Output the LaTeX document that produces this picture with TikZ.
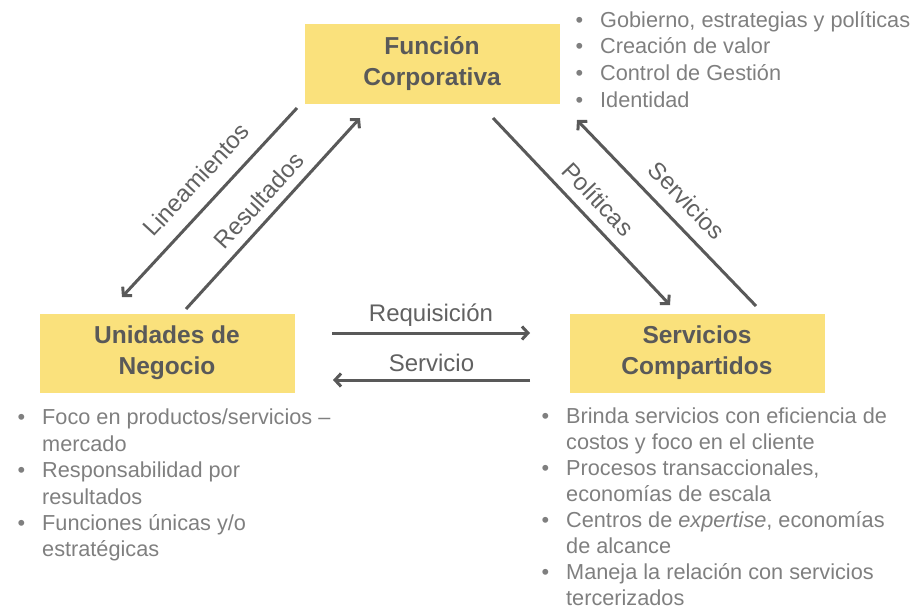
\documentclass[tikz,border=0pt]{standalone}
\usepackage{fontspec}
\setmainfont{Liberation Sans}
\usetikzlibrary{arrows.meta}

\definecolor{amarillo}{HTML}{FAE17C}
\definecolor{grisosc}{HTML}{595959}
\definecolor{grisclaro}{HTML}{7F7F7F}

\tikzset{
  caja/.style={fill=amarillo, minimum width=255pt, minimum height=79pt, align=center,
    font=\fontsize{24.5}{31}\selectfont\bfseries, text=grisosc},
  flecha/.style={draw=grisosc, line width=3pt, -{Straight Barb[length=6pt,width=13pt]}},
  etiqueta/.style={font=\fontsize{24}{28}\selectfont, text=grisosc!95, inner xsep=0pt},
  lista/.style={align=left, anchor=north west, inner sep=0pt,
    font=\fontsize{21.7}{26.4}\selectfont, text=grisclaro},
}
\newcommand{\vineta}{\llap{\textbullet\hspace{17pt}}}

\begin{document}
\begin{tikzpicture}[x=1pt,y=1pt]
  \useasboundingbox (0,0) rectangle (916,-610);

  % cajas
  \node[caja] (corp) at (432,-64) {Función\\Corporativa};
  \node[caja] (negocio) at (167,-353) {Unidades de\\Negocio};
  \node[caja] (compartidos) at (697,-353) {Servicios\\Compartidos};

  % extremos de las flechas
  \coordinate (lin-a) at (297,-108);
  \coordinate (lin-b) at (122,-297);
  \coordinate (res-a) at (186,-309);
  \coordinate (res-b) at (360,-118);
  \coordinate (pol-a) at (493,-118);
  \coordinate (pol-b) at (670,-305);
  \coordinate (ser-a) at (756,-306);
  \coordinate (ser-b) at (577,-120);
  \coordinate (req-a) at (332,-333);
  \coordinate (req-b) at (530,-333);
  \coordinate (srv-a) at (530,-380);
  \coordinate (srv-b) at (333,-380);

  \draw[flecha] (lin-a) -- node[etiqueta, sloped, above, pos=.47, inner ysep=15pt] {Lineamientos} (lin-b);
  \draw[flecha] (res-a) -- node[etiqueta, sloped, above, pos=.5, inner ysep=9pt] {Resultados} (res-b);
  \draw[flecha] (pol-a) -- node[etiqueta, sloped, above, pos=.51, inner ysep=10.5pt] {Políticas} (pol-b);
  \draw[flecha] (ser-a) -- node[etiqueta, sloped, above, pos=.48, inner ysep=13pt] {Servicios} (ser-b);
  \draw[flecha] (req-a) -- node[etiqueta, above, inner ysep=5pt] {Requisición} (req-b);
  \draw[flecha] (srv-a) -- node[etiqueta, above, inner ysep=7pt] {Servicio} (srv-b);

  % listas
  \node[lista, font=\fontsize{21.7}{26.7}\selectfont] (lista-corp) at (600,-11) {\vineta Gobierno, estrategias y políticas\\
    \vineta Creación de valor\\
    \vineta Control de Gestión\\
    \vineta Identidad};
  \node[lista] (lista-negocio) at (42,-409) {\vineta Foco en productos/servicios –\\
    mercado\\
    \vineta Responsabilidad por\\
    resultados\\
    \vineta Funciones únicas y/o\\
    estratégicas};
  \node[lista, font=\fontsize{21.7}{26}\selectfont] (lista-compartidos) at (566,-408) {\vineta Brinda servicios con eficiencia de\\
    costos y foco en el cliente\\
    \vineta Procesos transaccionales,\\
    economías de escala\\
    \vineta Centros de \textit{expertise}, economías\\
    de alcance\\
    \vineta Maneja la relación con servicios\\
    tercerizados};
\end{tikzpicture}
\end{document}
